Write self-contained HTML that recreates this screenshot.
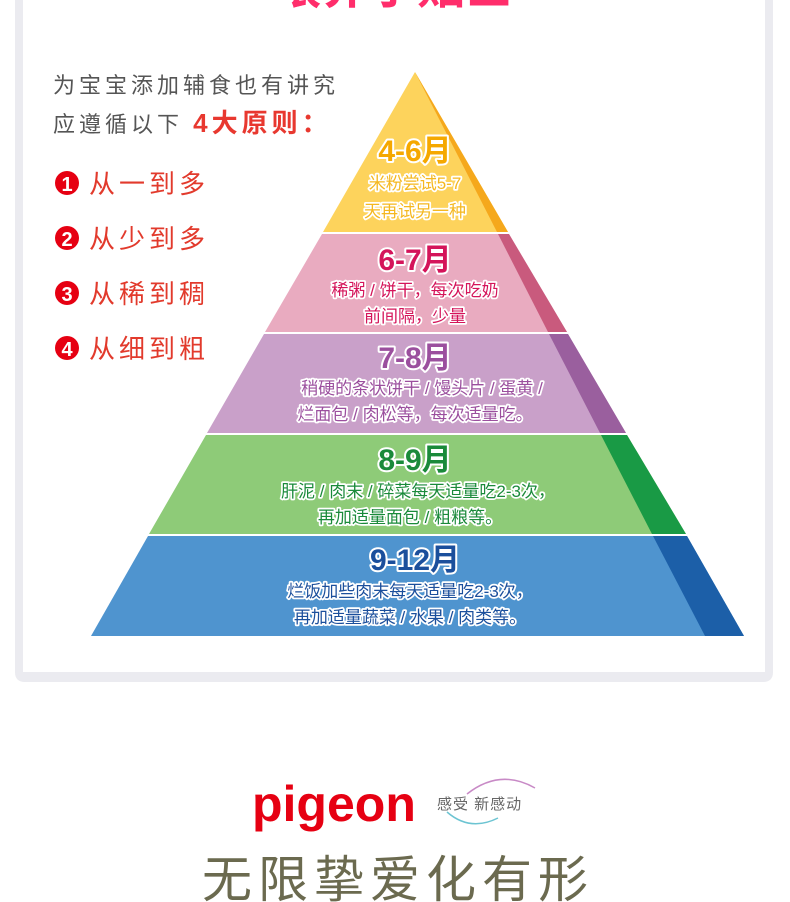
<!DOCTYPE html>
<html><head><meta charset="utf-8"><style>
html,body{margin:0;padding:0;background:#fff;}
body{width:790px;height:902px;position:relative;overflow:hidden;font-family:"Liberation Sans","Noto Sans CJK SC",sans-serif;}
svg{position:absolute;left:0;top:0;}
</style></head><body>
<svg width="790" height="902" viewBox="0 0 790 902" xmlns="http://www.w3.org/2000/svg" font-family="Liberation Sans, Noto Sans CJK SC, sans-serif">
<path d="M15,-10 H773 V672 Q773,682 763,682 H25 Q15,682 15,672 Z" fill="#ebebf0"/>
<rect x="23" y="-10" width="742" height="682" fill="#fff"/>
<text x="393" y="3" text-anchor="middle" font-size="48" font-weight="bold" fill="#ff2d6b">喂养小贴士</text>
<text x="53" y="93" font-size="22" fill="#555" letter-spacing="4">为宝宝添加辅食也有讲究</text>
<text x="53" y="132" font-size="22" fill="#555" letter-spacing="4">应遵循以下 <tspan fill="#e8382f" font-size="26" font-weight="bold">4大原则：</tspan></text>
<g font-size="26" fill="#e23a2c" letter-spacing="4">
<circle cx="67" cy="183" r="12" fill="#e60012"/><text x="67" y="191" text-anchor="middle" font-size="20" font-weight="bold" fill="#fff" letter-spacing="0">1</text><text x="89" y="193">从一到多</text>
<circle cx="67" cy="238" r="12" fill="#e60012"/><text x="67" y="246" text-anchor="middle" font-size="20" font-weight="bold" fill="#fff" letter-spacing="0">2</text><text x="89" y="248">从少到多</text>
<circle cx="67" cy="293" r="12" fill="#e60012"/><text x="67" y="301" text-anchor="middle" font-size="20" font-weight="bold" fill="#fff" letter-spacing="0">3</text><text x="89" y="303">从稀到稠</text>
<circle cx="67" cy="348" r="12" fill="#e60012"/><text x="67" y="356" text-anchor="middle" font-size="20" font-weight="bold" fill="#fff" letter-spacing="0">4</text><text x="89" y="358">从细到粗</text>
</g>
<polygon points="415,72 323,232 508,232" fill="#fdd35c"/>
<polygon points="415,72 497,232 508,232" fill="#f5a81c"/>
<polygon points="322,234 509,234 567,332 265,332" fill="#e9abc0"/>
<polygon points="498,234 509,234 567,332 548,332" fill="#c95a7d"/>
<polygon points="264,334 568,334 626,433 207,433" fill="#c9a0c9"/>
<polygon points="549,334 568,334 626,433 600,433" fill="#9a5f9e"/>
<polygon points="206,435 627,435 686,534 149,534" fill="#8ecb78"/>
<polygon points="601,435 627,435 686,534 652,534" fill="#199a45"/>
<polygon points="148,536 687,536 744,636 91,636" fill="#4f94cf"/>
<polygon points="653,536 687,536 744,636 705,636" fill="#1c5fa8"/>
<g text-anchor="middle" stroke="#fff" stroke-width="4" paint-order="stroke" stroke-linejoin="round">
<g font-weight="bold">
<text x="415" y="161" font-size="30" fill="#f5a800">4-6月</text>
<text x="415" y="270" font-size="30" fill="#d4145a">6-7月</text>
<text x="415" y="368" font-size="30" fill="#9b4f9e">7-8月</text>
<text x="415" y="470" font-size="30" fill="#1a8a3a">8-9月</text>
<text x="415" y="570" font-size="30" fill="#1b4f9c">9-12月</text>
</g>
<g font-size="17" stroke-width="3.5">
<text x="415" y="189" fill="#f5b820">米粉尝试5-7</text>
<text x="415" y="217" fill="#f5b820">天再试另一种</text>
<text x="415" y="296" fill="#d4145a">稀粥 / 饼干，每次吃奶</text>
<text x="415" y="322" fill="#d4145a">前间隔，少量</text>
<text x="422" y="394" fill="#9b4f9e">稍硬的条状饼干 / 馒头片 / 蛋黄 /</text>
<text x="415" y="420" fill="#9b4f9e">烂面包 / 肉松等，每次适量吃。</text>
<text x="418" y="497" fill="#1a8a3a">肝泥 / 肉末 / 碎菜每天适量吃2-3次，</text>
<text x="410" y="523" fill="#1a8a3a">再加适量面包 / 粗粮等。</text>
<text x="410" y="597" fill="#1b4f9c">烂饭加些肉末每天适量吃2-3次，</text>
<text x="410" y="623" fill="#1b4f9c">再加适量蔬菜 / 水果 / 肉类等。</text>
</g>
</g>
<text x="252" y="821" font-size="50" font-weight="bold" fill="#e60012">pigeon</text>
<path d="M467,794 Q500,768 535,788" fill="none" stroke="#c88ac6" stroke-width="1.5"/>
<path d="M447,812 Q470,832 498,818" fill="none" stroke="#6cc4d2" stroke-width="1.5"/>
<text x="437" y="809" font-size="15" fill="#666" letter-spacing="1">感受 新感动</text>
<text x="398" y="897" text-anchor="middle" font-size="50" fill="#6b6a4f" letter-spacing="6">无限挚爱化有形</text>
</svg>
</body></html>
